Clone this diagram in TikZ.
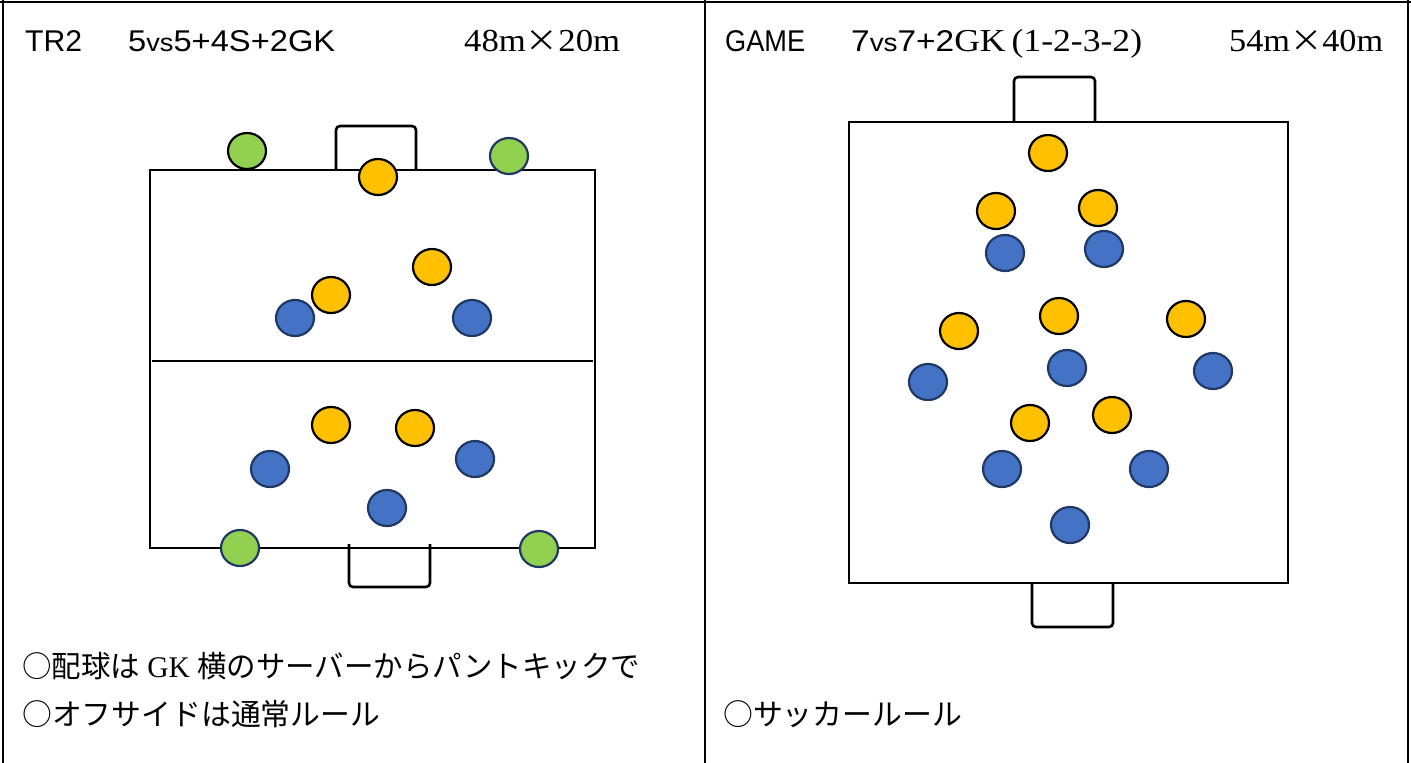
\documentclass[tikz,border=0pt]{standalone}
\usepackage{fontspec}
\setmainfont{Liberation Sans}
\newfontfamily\jp{Noto Sans CJK JP}
\newfontfamily\srf{Liberation Serif}
\usetikzlibrary{shapes.geometric}
\definecolor{pyel}{HTML}{FFC000}
\definecolor{pblue}{HTML}{4472C4}
\definecolor{pgreen}{HTML}{92D050}
\definecolor{navy}{HTML}{1F3864}
\newcommand{\fitw}[2]{\resizebox{#1pt}{\height}{#2}}
\tikzset{
  player/.style={ellipse, minimum width=38pt, minimum height=36pt, inner sep=0pt, line width=2.2pt},
  yel/.style={player, fill=pyel, draw=black},
  blu/.style={player, fill=pblue, draw=navy},
  grn/.style={player, fill=pgreen, draw=navy},
  grnk/.style={player, fill=pgreen, draw=black},
  fieldline/.style={line width=2.6pt, draw=black},
  goal/.style={line width=2.6pt, draw=black, rounded corners=4pt},
  frame/.style={line width=2.4pt, draw=black},
  hdr/.style={anchor=base west, inner sep=0pt, font=\fontsize{30}{32}\selectfont},
  note/.style={anchor=west, inner sep=0pt, font=\fontsize{30}{32}\selectfont\jp},
}
\begin{document}
\begin{tikzpicture}[x=1pt,y=-1pt]
\useasboundingbox (0,0) rectangle (1411,763);
\fill[white] (0,0) rectangle (1411,763);
% frame
\coordinate (ftl) at (0,2);
\coordinate (ftr) at (1411,2);
\draw[frame] (ftl) -- (ftr);
\coordinate (fl1) at (3,0); \coordinate (fl2) at (3,763);
\draw[frame] (fl1) -- (fl2);
\coordinate (fm1) at (705,0); \coordinate (fm2) at (705,763);
\draw[frame] (fm1) -- (fm2);
\coordinate (fr1) at (1408,0); \coordinate (fr2) at (1408,763);
\draw[frame] (fr1) -- (fr2);

% headers
\node[hdr] (h1) at (25,51) {\fitw{57}{TR2}};
\node[hdr] (h2) at (128,51) {\fitw{207}{5{\fontsize{25}{26}\selectfont vs}5+4S+2GK}};
\node[hdr] (h3) at (464,51) {\fitw{156}{{\srf\fontsize{32}{32}\selectfont 48m}{\jp ×}{\srf\fontsize{32}{32}\selectfont 20m}}};
\node[hdr] (h4) at (725,51) {\fitw{80}{GAME}};
\node[hdr] (h5) at (851,51) {\fitw{291}{7{\fontsize{25}{26}\selectfont vs}7+2{\srf\fontsize{32}{32}\selectfont GK\,(1-2-3-2)}}};
\node[hdr] (h6) at (1229,51) {\fitw{154}{{\srf\fontsize{32}{32}\selectfont 54m}{\jp ×}{\srf\fontsize{32}{32}\selectfont 40m}}};

% left field
\draw[fieldline] (150,170) rectangle (595,548);
\coordinate (hl1) at (152,361); \coordinate (hl2) at (593,361);
\draw[fieldline] (hl1) -- (hl2);
\draw[goal] (336,170) -- (336,126) -- (416,126) -- (416,170);
\draw[goal] (349,544) -- (349,587) -- (430,587) -- (430,544);

\node[grnk] (g1) at (247,151) {};
\node[grn]  (g2) at (509,156) {};
\node[yel]  (ly1) at (378,177) {};
\node[yel]  (ly2) at (432,267) {};
\node[yel]  (ly3) at (331,295) {};
\node[blu]  (lb1) at (295,318) {};
\node[blu]  (lb2) at (472,318) {};
\node[yel]  (ly4) at (331,425) {};
\node[yel]  (ly5) at (415,428) {};
\node[blu]  (lb3) at (270,469) {};
\node[blu]  (lb4) at (475,459) {};
\node[blu]  (lb5) at (387,508) {};
\node[grn]  (g3) at (240,548) {};
\node[grn]  (g4) at (539,549) {};

% right field
\draw[fieldline] (849,122) rectangle (1288,583);
\draw[goal] (1014,122) -- (1014,77) -- (1095,77) -- (1095,122);
\draw[goal] (1032,583) -- (1032,627) -- (1113,627) -- (1113,583);

\node[yel] (ry1) at (1048,153) {};
\node[yel] (ry2) at (996,211) {};
\node[yel] (ry3) at (1098,208) {};
\node[blu] (rb1) at (1005,253) {};
\node[blu] (rb2) at (1104,249) {};
\node[yel] (ry4) at (959,331) {};
\node[yel] (ry5) at (1059,316) {};
\node[yel] (ry6) at (1186,319) {};
\node[blu] (rb3) at (928,382) {};
\node[blu] (rb4) at (1067,368) {};
\node[blu] (rb5) at (1213,371) {};
\node[yel] (ry7) at (1030,423) {};
\node[yel] (ry8) at (1112,415) {};
\node[blu] (rb6) at (1002,469) {};
\node[blu] (rb7) at (1149,469) {};
\node[blu] (rb8) at (1070,525) {};

% notes
\node[note] (n1) at (22,666) {\fitw{618}{○配球は{\srf\ GK\ }横のサーバーからパントキックで}};
\node[note] (n2) at (22,714) {\fitw{358}{○オフサイドは通常ルール}};
\node[note] (n3) at (723,714) {\fitw{239}{○サッカールール}};
\end{tikzpicture}
\end{document}
